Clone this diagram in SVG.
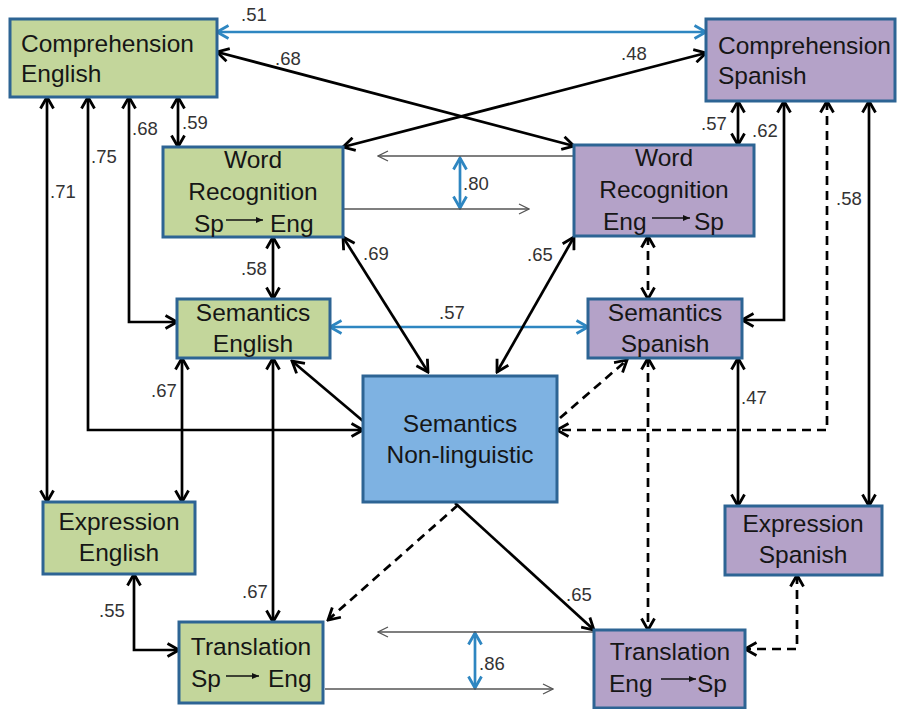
<svg xmlns="http://www.w3.org/2000/svg" width="904" height="709" viewBox="0 0 904 709">
<style>
.node rect{stroke:#2D6494;stroke-width:3}
.g rect{fill:#C3D69B}
.p rect{fill:#B4A2C8}
.b rect{fill:#7EB2E2}
.node text{font-family:"Liberation Sans",Arial,sans-serif;font-size:24.5px;fill:#161616}
.c{text-anchor:middle}
.lbl{font-family:"Liberation Sans",Arial,sans-serif;font-size:18.5px;fill:#333}
.k{fill:none;stroke:#000;stroke-width:2.7}
.kd{fill:none;stroke:#000;stroke-width:2.7;stroke-dasharray:9 6}
.bl{fill:none;stroke:#2E86C1;stroke-width:2.7}
.th{fill:none;stroke:#555;stroke-width:1.3}
.sa{stroke:#111;stroke-width:1.6}
</style>
<defs>
<marker id="ak" viewBox="0 0 16 16" refX="14" refY="8" markerWidth="16" markerHeight="16" markerUnits="userSpaceOnUse" orient="auto-start-reverse"><path d="M2.5,1.5 L14,8 L2.5,14.5" fill="none" stroke="#000" stroke-width="2.8"/></marker>
<marker id="ab" viewBox="0 0 16 16" refX="14" refY="8" markerWidth="16" markerHeight="16" markerUnits="userSpaceOnUse" orient="auto-start-reverse"><path d="M2.5,1.5 L14,8 L2.5,14.5" fill="none" stroke="#2E86C1" stroke-width="2.8"/></marker>
<marker id="at" viewBox="0 0 12 12" refX="11" refY="6" markerWidth="12" markerHeight="12" markerUnits="userSpaceOnUse" orient="auto"><path d="M1,1 L11,6 L1,11" fill="none" stroke="#555" stroke-width="1.3"/></marker>
<marker id="as" viewBox="0 0 8 8" refX="7" refY="4" markerWidth="8" markerHeight="8" markerUnits="userSpaceOnUse" orient="auto"><path d="M0,1 L7,4 L0,7 Z" fill="#111"/></marker>
</defs>

<g id="connectors">
<!-- blue -->
<path class="bl" d="M217,32 H706" marker-start="url(#ab)" marker-end="url(#ab)"/>
<path class="bl" d="M330,327 H588" marker-start="url(#ab)" marker-end="url(#ab)"/>
<path class="bl" d="M460,158 V208" marker-start="url(#ab)" marker-end="url(#ab)"/>
<path class="bl" d="M475,633 V688" marker-start="url(#ab)" marker-end="url(#ab)"/>
<!-- thin gray -->
<path class="th" d="M574,156 H378" marker-end="url(#at)"/>
<path class="th" d="M343,209 H529" marker-end="url(#at)"/>
<path class="th" d="M594,632 H378" marker-end="url(#at)"/>
<path class="th" d="M325,689 H553" marker-end="url(#at)"/>
<!-- black solid -->
<path class="k" d="M217,52 L574,146" marker-start="url(#ak)" marker-end="url(#ak)"/>
<path class="k" d="M343,147 L706,53" marker-start="url(#ak)" marker-end="url(#ak)"/>
<path class="k" d="M47,97 V502" marker-start="url(#ak)" marker-end="url(#ak)"/>
<path class="k" d="M88,97 V430 H363" marker-start="url(#ak)" marker-end="url(#ak)"/>
<path class="k" d="M129,97 V322 H177" marker-start="url(#ak)" marker-end="url(#ak)"/>
<path class="k" d="M178,97 V147" marker-start="url(#ak)" marker-end="url(#ak)"/>
<path class="k" d="M273,237 V299" marker-start="url(#ak)" marker-end="url(#ak)"/>
<path class="k" d="M343,237 L428,372" marker-start="url(#ak)" marker-end="url(#ak)"/>
<path class="k" d="M574,237 L497,372" marker-start="url(#ak)" marker-end="url(#ak)"/>
<path class="k" d="M363,421 L292,361" marker-end="url(#ak)"/>
<path class="k" d="M182,358 V502" marker-start="url(#ak)" marker-end="url(#ak)"/>
<path class="k" d="M273,358 V622" marker-start="url(#ak)" marker-end="url(#ak)"/>
<path class="k" d="M134,574 V650 H179" marker-start="url(#ak)" marker-end="url(#ak)"/>
<path class="k" d="M455,503 L594,630" marker-end="url(#ak)"/>
<path class="k" d="M784,101 V320 H742" marker-start="url(#ak)" marker-end="url(#ak)"/>
<path class="k" d="M738,101 V145" marker-start="url(#ak)" marker-end="url(#ak)"/>
<path class="k" d="M869,101 V506" marker-start="url(#ak)" marker-end="url(#ak)"/>
<path class="k" d="M738,358 V506" marker-start="url(#ak)" marker-end="url(#ak)"/>
<!-- dashed -->
<path class="kd" d="M458,505 L328,620" marker-end="url(#ak)"/>
<path class="kd" d="M560,418 L627,360" marker-end="url(#ak)"/>
<path class="kd" d="M827,101 V430 H557" marker-start="url(#ak)" marker-end="url(#ak)"/>
<path class="kd" d="M648,236 V299" marker-start="url(#ak)" marker-end="url(#ak)"/>
<path class="kd" d="M648,358 V630" marker-start="url(#ak)" marker-end="url(#ak)"/>
<path class="kd" d="M797,575 V649 H745" marker-start="url(#ak)" marker-end="url(#ak)"/>
<!-- labels -->
<text class="lbl" x="241" y="21">.51</text>
<text class="lbl" x="275" y="65">.68</text>
<text class="lbl" x="621" y="60">.48</text>
<text class="lbl" x="50" y="198">.71</text>
<text class="lbl" x="91" y="163">.75</text>
<text class="lbl" x="132" y="135">.68</text>
<text class="lbl" x="182" y="129">.59</text>
<text class="lbl" x="463" y="190">.80</text>
<text class="lbl" x="241" y="275">.58</text>
<text class="lbl" x="363" y="260">.69</text>
<text class="lbl" x="527" y="261">.65</text>
<text class="lbl" x="439" y="319">.57</text>
<text class="lbl" x="151" y="397">.67</text>
<text class="lbl" x="242" y="598">.67</text>
<text class="lbl" x="99" y="617">.55</text>
<text class="lbl" x="566" y="601">.65</text>
<text class="lbl" x="479" y="670">.86</text>
<text class="lbl" x="701" y="130">.57</text>
<text class="lbl" x="752" y="137">.62</text>
<text class="lbl" x="836" y="205">.58</text>
<text class="lbl" x="741" y="404">.47</text>
</g>

<g id="comp-en" class="node g"><rect x="10" y="19" width="207" height="78"/><text x="21" y="52">Comprehension</text><text x="21" y="82">English</text></g>
<g id="comp-sp" class="node p"><rect x="706" y="19" width="189" height="82"/><text x="718" y="54">Comprehension</text><text x="718" y="84">Spanish</text></g>
<g id="wr-en" class="node g"><rect x="163" y="147" width="180" height="90"/><text class="c" x="253" y="168">Word</text><text class="c" x="253" y="200">Recognition</text><text x="194" y="232">Sp</text><line class="sa" x1="226" y1="220" x2="263" y2="220" marker-end="url(#as)"/><text x="270" y="232">Eng</text></g>
<g id="wr-sp" class="node p"><rect x="574" y="145" width="180" height="91"/><text class="c" x="664" y="166">Word</text><text class="c" x="664" y="198">Recognition</text><text x="603" y="230">Eng</text><line class="sa" x1="652" y1="218" x2="690" y2="218" marker-end="url(#as)"/><text x="694" y="230">Sp</text></g>
<g id="sem-en" class="node g"><rect x="177" y="299" width="153" height="59"/><text class="c" x="253" y="321">Semantics</text><text class="c" x="253" y="352">English</text></g>
<g id="sem-sp" class="node p"><rect x="588" y="299" width="154" height="59"/><text class="c" x="665" y="321">Semantics</text><text class="c" x="665" y="352">Spanish</text></g>
<g id="sem-nl" class="node b"><rect x="363" y="376" width="194" height="126"/><text class="c" x="460" y="432">Semantics</text><text class="c" x="460" y="463">Non-linguistic</text></g>
<g id="exp-en" class="node g"><rect x="43" y="502" width="152" height="72"/><text class="c" x="119" y="530">Expression</text><text class="c" x="119" y="561">English</text></g>
<g id="exp-sp" class="node p"><rect x="725" y="506" width="157" height="69"/><text class="c" x="803" y="532">Expression</text><text class="c" x="803" y="563">Spanish</text></g>
<g id="tr-en" class="node g"><rect x="179" y="622" width="144" height="81"/><text class="c" x="251" y="655">Translation</text><text x="191" y="687">Sp</text><line class="sa" x1="226" y1="676" x2="259" y2="676" marker-end="url(#as)"/><text x="268" y="687">Eng</text></g>
<g id="tr-sp" class="node p"><rect x="594" y="630" width="151" height="78"/><text class="c" x="670" y="660">Translation</text><text x="609" y="692">Eng</text><line class="sa" x1="661" y1="679" x2="696" y2="679" marker-end="url(#as)"/><text x="697" y="692">Sp</text></g>
</svg>
